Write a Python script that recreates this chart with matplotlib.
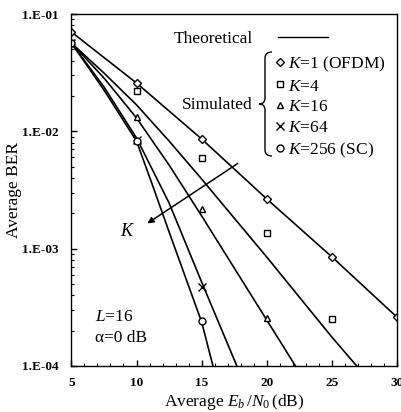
import numpy as np
import matplotlib
matplotlib.use("Agg")
import matplotlib.pyplot as plt
from matplotlib.lines import Line2D
from matplotlib.path import Path
from matplotlib.patches import PathPatch
from matplotlib.ticker import FixedLocator, FuncFormatter, LogLocator

plt.rcParams['font.family'] = ['Liberation Serif', 'DejaVu Serif']
plt.rcParams['mathtext.fontset'] = 'custom'
plt.rcParams['mathtext.rm'] = 'Liberation Serif'
plt.rcParams['mathtext.it'] = 'Liberation Serif:italic'

# simulated points (Eb/N0 in dB, average BER)
sim_x = [5, 10, 15, 20, 25, 30]
sim_k1 = [0.0703, 0.0258, 0.0086, 0.00265, 0.00085, 0.00026]
sim_k4 = [0.0566, 0.0221, 0.0059, 0.00136, 0.00025]
sim_k16 = [0.0566, 0.0132, 0.00218, 0.000257]
sim_k64 = [0.0566, 0.0085, 0.00047]
sim_k256 = [0.0566, 0.00826, 0.000241]

# theoretical curves
th_k1_x = [5, 10, 15, 20, 25, 30]
th_k1 = [0.0703, 0.0258, 0.0086, 0.00265, 0.00085, 0.00026]
th_k4_x = [5, 7.5, 10, 12.5, 15, 17.5, 20, 22.5, 25, 26.9]
th_k4 = [0.0566, 0.0314, 0.0168, 0.00826, 0.00392, 0.00182, 0.000847, 0.000386, 0.000176, 0.0001]
th_k16_x = [5, 7.5, 10, 12.5, 15, 17.5, 20, 22.2]
th_k16 = [0.0566, 0.0285, 0.013, 0.00516, 0.0019, 0.000684, 0.000246, 0.0001]
th_k64_x = [5, 7.5, 10, 12.5, 15, 17.7]
th_k64 = [0.0566, 0.0239, 0.00877, 0.00245, 0.000519, 0.0001]
th_k256_x = [5, 7.5, 10, 11.25, 12.5, 13.75, 15, 15.87]
th_k256 = [0.0566, 0.0225, 0.00826, 0.00342, 0.00139, 0.000573, 0.000237, 0.0001]

labels = [r'$K$=1 (OFDM)', r'$K$=4', r'$K$=16', r'$K$=64', r'$K$=256 (SC)']
markers = ['D', 's', '^', 'x', 'o']
msizes = [4, 5, 5, 6, 5]

fig = plt.figure(figsize=(4.01, 4.12), dpi=100)
ax = fig.add_axes([0.178, 0.112, 0.812, 0.854])

theory = [(th_k1_x, th_k1), (th_k4_x, th_k4), (th_k16_x, th_k16),
          (th_k64_x, th_k64), (th_k256_x, th_k256)]
for tx, ty in theory:
    ax.plot(tx, ty, color='black', lw=1.2)

sims = [sim_k1, sim_k4, sim_k16, sim_k64, sim_k256]
handles = []
for vals, mk, ms, lab in zip(sims, markers, msizes, labels):
    h, = ax.plot(sim_x[:len(vals)], vals, linestyle='none', marker=mk, ms=ms,
                 mfc='white', mec='black', mew=1.0, label=lab)
    handles.append(h)

ax.set_yscale('log')
ax.set_xlim(5, 30)
ax.set_ylim(1e-4, 1e-1)

ax.xaxis.set_major_locator(FixedLocator([5, 10, 15, 20, 25, 30]))
ax.xaxis.set_minor_locator(FixedLocator(np.arange(5, 31, 1)))
ax.yaxis.set_major_locator(LogLocator(base=10, numticks=10))
ax.yaxis.set_minor_locator(LogLocator(base=10, subs=np.arange(2, 10), numticks=10))
ax.yaxis.set_major_formatter(FuncFormatter(lambda v, _: '1.E-%02d' % round(-np.log10(v))))
ax.yaxis.set_minor_formatter(FuncFormatter(lambda v, _: ''))
ax.tick_params(which='major', direction='in', length=4, width=1, labelsize=9.5)
ax.tick_params(which='minor', direction='in', length=2, width=0.8)
ax.tick_params(axis='x', pad=8)
ax.tick_params(axis='y', pad=9)
for lab in ax.get_xticklabels() + ax.get_yticklabels():
    lab.set_fontweight('bold')
for sp in ax.spines.values():
    sp.set_linewidth(1.0)

ax.set_xlabel(r'Average $E_b\,/N_0\,$(dB)', fontsize=12.5, labelpad=2)
ax.set_ylabel('Average BER', fontsize=12.5)
ax.yaxis.set_label_coords(-0.152, 0.5)

# legends
leg1 = ax.legend([Line2D([], [], color='black', lw=1.0)], ['Theoretical'],
                 loc='upper left', bbox_to_anchor=(0.315, 0.953), frameon=False,
                 markerfirst=False, handlelength=2.9, handletextpad=1.4,
                 fontsize=12.5, borderpad=0, borderaxespad=0)
ax.add_artist(leg1)
ax.legend(handles=handles, loc='upper left', bbox_to_anchor=(0.626, 0.885),
          frameon=False, handlelength=0.5, handletextpad=0.25, labelspacing=0.27,
          fontsize=12.5, borderpad=0, borderaxespad=0)

ax.text(0.557, 0.74, 'Simulated', transform=ax.transAxes, fontsize=12.5,
        ha='right', va='center')

# curly brace next to the simulated entries
W, H = 401.0, 412.0
pts = [(272, 52), (265, 52), (265, 58), (265, 98), (265, 104), (259, 104),
       (265, 104), (265, 110), (265, 150), (265, 156), (272, 156)]
codes = [Path.MOVETO, Path.CURVE3, Path.CURVE3, Path.LINETO, Path.CURVE3, Path.CURVE3,
         Path.CURVE3, Path.CURVE3, Path.LINETO, Path.CURVE3, Path.CURVE3]
verts = [(x / W, 1 - y / H) for x, y in pts]
fig.patches.append(PathPatch(Path(verts, codes), transform=fig.transFigure,
                             fill=False, lw=1.0, color='black'))

# K direction arrow
ax.annotate('', xy=(10.65, 0.00159), xytext=(17.94, 0.00547),
            arrowprops=dict(arrowstyle='-|>', lw=1.1, color='black', mutation_scale=9))
ax.text(9.3, 0.00139, r'$K$', fontsize=13, ha='center', va='center')

ax.text(6.8, 0.00026, r'$L$=16', fontsize=12.5, ha='left', va='center')
ax.text(6.8, 0.000172, 'α=0 dB', fontsize=12.5, ha='left', va='center')

fig.savefig('out.png', dpi=100)
